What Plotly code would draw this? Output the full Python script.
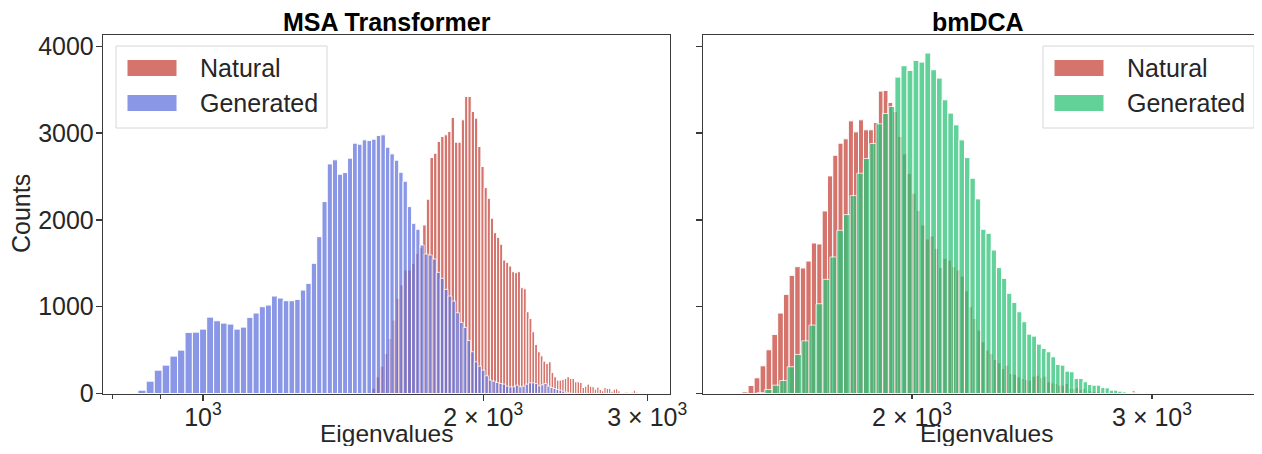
import numpy as np
import plotly.graph_objects as go

# ---------------- data ----------------
# MSA Transformer panel
msa_gen_start, msa_gen_width = 851.5, 17.53
msa_gen_counts = [38, 142, 269, 327, 431, 500, 704, 707, 742, 880, 838, 811, 800, 742, 765, 877, 927, 1000,
                  1019, 1123, 1100, 1069, 1069, 1084,
                  1192, 1269, 1500, 1807, 2211, 2645, 2692, 2526, 2545, 2711, 2884, 2872, 2922, 2915, 2930,
                  2972, 2980, 2838, 2761, 2688, 2549, 2445, 2153, 1961, 1892,
                  1711, 1607, 1596, 1550, 1396, 1327, 1200, 1123, 1065, 931, 819, 762, 612, 481, 365, 315,
                  269, 204, 154, 142, 127, 115, 108, 85, 77, 77, 96, 77, 85, 108, 123, 123, 115, 88, 100,
                  115, 85, 69, 58, 46, 38, 27, 15, 8]
msa_nat_start, msa_nat_width = 1517.6, 15.7
msa_nat_counts = [60, 192, 315, 461, 634, 846, 1096, 1250, 1423, 1423, 1500, 1615, 1680, 1942, 2238, 2718,
                  2768, 2903, 2961, 2980, 3018, 3180, 2895, 2895, 3153, 3422, 3422, 3249, 3172, 2845, 2615,
                  2372, 2249, 2019, 1853, 1799, 1719, 1538, 1511, 1469, 1403, 1392, 1403, 1219, 1207, 942,
                  865, 711, 565, 481, 434, 373, 346, 365, 242, 192, 154, 154, 161, 173, 192, 173, 173, 135,
                  134, 127, 69, 84, 108, 84, 77, 50, 73, 46, 31, 69, 58, 58, 27, 50, 54, 31, 5, 5, 15, 15,
                  0, 15, 38, 15]
# bmDCA panel
dca_nat_start, dca_nat_width = 1500.6, 15.55
dca_nat_counts = [19, 92, 181, 319, 504, 681, 927, 1142, 1361, 1461, 1446, 1526, 1734, 1723, 2103, 2507,
                  2745, 2884, 2934, 3141, 3014, 3153, 3038, 3038, 3122, 3484,
                  3491, 3353, 3249, 2961, 2761, 2538,
                  2307, 2107, 1942, 1780, 1815, 1673, 1450, 1557, 1538, 1461, 1423, 1353, 1184, 1000, 865,
                  731, 596, 500, 461,
                  392, 354, 288, 327, 231, 223, 192, 173, 161, 154, 200, 211, 185, 200, 135, 123, 115, 96,
                  96, 115, 58, 58, 69, 46, 58, 38, 31,
                  23, 19, 15, 12, 12, 8, 8, 12, 8, 5, 5, 5, 31, 8]
dca_gen_start, dca_gen_width = 1539.0, 20.2
dca_gen_counts = [12, 46, 96, 150, 308, 450, 607, 788, 1034, 1315, 1573, 1880, 2061, 2280, 2538, 2707,
                  2880, 3107, 3226, 3307, 3645, 3776, 3722,
                  3837, 3818, 3922, 3730, 3634, 3384, 3230, 3095, 2922, 2718, 2480, 2242, 1892, 1846, 1653,
                  1450, 1327, 1154, 1050, 942, 827, 684, 661, 569, 519, 481, 423, 335, 327, 258, 250, 173,
                  173, 135, 104, 96, 96, 69, 65, 38, 38, 27, 19, 12, 12]

panel_titles = ["MSA Transformer", "bmDCA"]
series_names = ["Natural", "Generated"]
y_ticks = [0, 1000, 2000, 3000, 4000]
x_ticks_left = [1000, 2000, 3000]
x_minor_left = [800, 900]
x_ticks_right = [2000, 3000]
x_tick_text = {1000: "10<sup>3</sup>", 2000: "2 × 10<sup>3</sup>", 3000: "3 × 10<sup>3</sup>"}

# ---------------- style ----------------
PAGE_W, PAGE_H, BODY_M = 1262, 454, 8          # browser body keeps its default 8px margin
W, H = PAGE_W - 2 * BODY_M, PAGE_H - 2 * BODY_M
FONT = "Liberation Sans, Arial, sans-serif"
TXT = "#262626"
C_NAT = "rgb(198,70,60)"
C_BLUE = "rgb(99,116,222)"
C_GREEN = "rgb(47,195,120)"
ALPHA = 0.75

def px2x(p):   # screen pixel -> paper fraction
    return (p - BODY_M) / W

def px2y(p):
    return 1 - (p - BODY_M) / H

L_DOM = [px2x(103), px2x(670)]
R_DOM = [px2x(703), 1.0]
Y_DOM = [px2y(393.5), px2y(35)]
# value at the screen pixel where the right panel ends (log axis: 1363 px / decade, 2000 at 912 px)
R_MAX = 2000 * 10 ** ((PAGE_W - BODY_M - 912) / 1363)


def hist_trace(start, width, counts, color, xa, ya):
    n = len(counts)
    edges = start + width * np.arange(n + 1)
    le = np.log10(edges)
    return go.Bar(x=le[:-1], y=counts, width=np.diff(le), offset=0,
                  marker=dict(color=color, line=dict(color="white", width=1)),
                  opacity=ALPHA, xaxis=xa, yaxis=ya, showlegend=False, hoverinfo="skip")


fig = go.Figure()
fig.add_trace(hist_trace(msa_nat_start, msa_nat_width, msa_nat_counts, C_NAT, "x", "y"))
fig.add_trace(hist_trace(msa_gen_start, msa_gen_width, msa_gen_counts, C_BLUE, "x", "y"))
fig.add_trace(hist_trace(dca_nat_start, dca_nat_width, dca_nat_counts, C_NAT, "x2", "y2"))
fig.add_trace(hist_trace(dca_gen_start, dca_gen_width, dca_gen_counts, C_GREEN, "x2", "y2"))

axis_common = dict(showline=True, linecolor="#3a3a3a", linewidth=1.25, ticks="outside",
                   tickcolor="#3a3a3a", tickwidth=1.25, showgrid=False, zeroline=False, automargin=False,
                   tickfont=dict(family=FONT, size=25, color=TXT))

fig.update_layout(
    width=W, height=H, margin=dict(l=0, r=0, t=0, b=0),
    paper_bgcolor="white", plot_bgcolor="white", barmode="overlay", bargap=0,
    xaxis=dict(domain=L_DOM, range=[np.log10(781), np.log10(3174)], anchor="y", mirror=True,
               tickmode="array", tickvals=list(np.log10(x_ticks_left)),
               ticktext=[x_tick_text[v] for v in x_ticks_left], ticklen=6, ticklabelstandoff=-5,
               minor=dict(tickmode="array", tickvals=list(np.log10(x_minor_left)), ticks="outside",
                          ticklen=4, tickcolor="#3a3a3a", tickwidth=1), **axis_common),
    yaxis=dict(domain=Y_DOM, range=[0, 4130], anchor="x", mirror=True, tickmode="array",
               tickvals=y_ticks, ticktext=[str(v) for v in y_ticks], ticklen=6, ticklabelstandoff=-3,
               **axis_common),
    xaxis2=dict(domain=R_DOM, range=[np.log10(1405), np.log10(R_MAX)], anchor="y2", mirror=True,
                tickmode="array", tickvals=list(np.log10(x_ticks_right)),
                ticktext=[x_tick_text[v] for v in x_ticks_right], ticklen=4, ticklabelstandoff=-3,
                **axis_common),
    yaxis2=dict(domain=Y_DOM, range=[0, 4130], anchor="x2", mirror=False, tickmode="array",
                tickvals=y_ticks, showticklabels=False, ticklen=6, **axis_common),
)

annos = []
# titles
for txt, cx in zip(panel_titles, [386.5, 978]):
    annos.append(dict(text=f"<b>{txt}</b>", x=px2x(cx), y=px2y(22.5), xref="paper", yref="paper",
                      showarrow=False, xanchor="center", yanchor="middle",
                      font=dict(family=FONT, size=25, color="black")))
# axis titles (kept inside the figure box so nothing is clipped)
for cx in [386.5, 986]:
    annos.append(dict(text="Eigenvalues", x=px2x(cx), y=px2y(433), xref="paper", yref="paper",
                      showarrow=False, xanchor="center", yanchor="middle",
                      font=dict(family=FONT, size=24.5, color=TXT)))
annos.append(dict(text="Counts", x=px2x(21), y=px2y(214), xref="paper", yref="paper", textangle=-90,
                  showarrow=False, xanchor="center", yanchor="middle",
                  font=dict(family=FONT, size=25, color=TXT)))

shapes = []
# legends (drawn as boxes + swatches + labels)
for bx, colors in [(116, [C_NAT, C_BLUE]), (1043, [C_NAT, C_GREEN])]:
    shapes.append(dict(type="rect", xref="paper", yref="paper", x0=px2x(bx), x1=px2x(bx + 211),
                       y0=px2y(128), y1=px2y(46), line=dict(color="#d6d6d6", width=1),
                       fillcolor="rgba(255,255,255,0.8)", layer="above"))
    for i, (name, col) in enumerate(zip(series_names, colors)):
        yc = 68 + i * 35
        shapes.append(dict(type="rect", xref="paper", yref="paper", x0=px2x(bx + 11), x1=px2x(bx + 61),
                           y0=px2y(yc + 8.5), y1=px2y(yc - 8.5), fillcolor=col, opacity=ALPHA,
                           line=dict(color="white", width=1), layer="above"))
        annos.append(dict(text=name, x=px2x(bx + 82), y=px2y(yc), xref="paper", yref="paper",
                          showarrow=False, xanchor="left", yanchor="middle",
                          font=dict(family=FONT, size=25, color=TXT)))

fig.update_layout(annotations=annos, shapes=shapes)
fig.write_html("out.html", config={"displayModeBar": False, "staticPlot": True})
